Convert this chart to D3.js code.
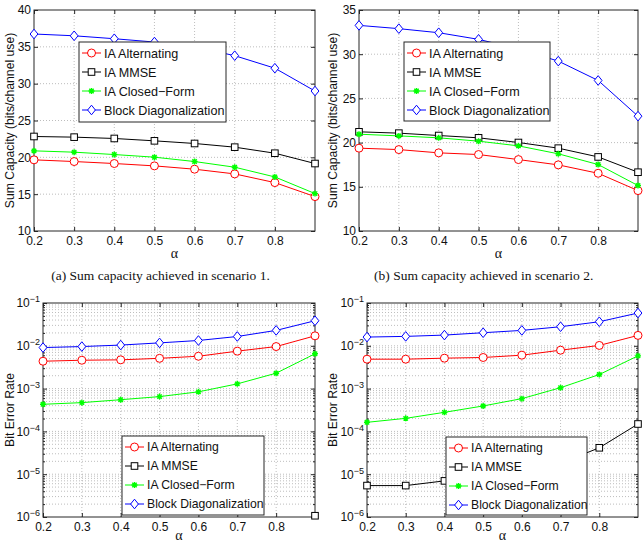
<!DOCTYPE html>
<html>
<head>
<meta charset="utf-8">
<script src="https://cdn.jsdelivr.net/npm/d3@7"></script>
<style>
body { margin: 0; background: #fff; }
svg { display: block; }
</style>
</head>
<body>
<div id="chart"></div>
<script>
const width = 643, height = 555;

// x values shared by every panel
const alphaValues = [0.2, 0.3, 0.4, 0.5, 0.6, 0.7, 0.8, 0.9];
const alphaTicks = [0.2, 0.3, 0.4, 0.5, 0.6, 0.7, 0.8];

const seriesNames = ["IA Alternating", "IA MMSE", "IA Closed\u2212Form", "Block Diagonalization"];
const seriesColors = ["#ff0000", "#000000", "#00ff00", "#0000ff"];
const seriesMarkers = ["circle", "square", "star", "diamond"];

// (a) sum capacity, scenario 1
const cap1Alternating = [19.66, 19.43, 19.16, 18.84, 18.39, 17.75, 16.57, 14.67];
const cap1MMSE = [22.83, 22.74, 22.56, 22.24, 21.88, 21.38, 20.56, 19.16];
const cap1ClosedForm = [20.88, 20.70, 20.38, 20.02, 19.43, 18.66, 17.34, 15.08];
const cap1BlockDiag = [36.74, 36.50, 36.10, 35.65, 35.00, 33.80, 32.10, 29.00];
const cap1Ticks = [10, 15, 20, 25, 30, 35, 40];

// (b) sum capacity, scenario 2
const cap2Alternating = [19.37, 19.21, 18.84, 18.65, 18.08, 17.48, 16.53, 14.57];
const cap2MMSE = [21.22, 21.07, 20.80, 20.54, 20.01, 19.37, 18.38, 16.65];
const cap2ClosedForm = [20.95, 20.76, 20.54, 20.16, 19.63, 18.73, 17.52, 15.14];
const cap2BlockDiag = [33.26, 32.89, 32.43, 31.68, 30.60, 29.22, 27.03, 22.99];
const cap2Ticks = [10, 15, 20, 25, 30, 35];

// bit error rate, scenario 1 (MMSE is zero except at the last point)
const ber1Alternating = [4.36e-3, 4.6e-3, 4.7e-3, 5.1e-3, 5.7e-3, 7.5e-3, 9.6e-3, 1.71e-2];
const ber1MMSE = [null, null, null, null, null, null, null, 1.07e-6];
const ber1ClosedForm = [4.3e-4, 4.7e-4, 5.5e-4, 6.5e-4, 8.4e-4, 1.29e-3, 2.29e-3, 6.5e-3];
const ber1BlockDiag = [9.1e-3, 9.6e-3, 1.04e-2, 1.17e-2, 1.33e-2, 1.65e-2, 2.29e-2, 3.85e-2];

// bit error rate, scenario 2
const ber2Alternating = [4.87e-3, 4.87e-3, 5.14e-3, 5.33e-3, 6.04e-3, 7.9e-3, 1.02e-2, 1.75e-2];
const ber2MMSE = [5.42e-6, 5.42e-6, 6.98e-6, 9.0e-6, 1.25e-5, 1.8e-5, 4.14e-5, 1.49e-4];
const ber2ClosedForm = [1.63e-4, 2.02e-4, 2.79e-4, 3.93e-4, 5.83e-4, 1.05e-3, 2.13e-3, 5.83e-3];
const ber2BlockDiag = [1.6e-2, 1.66e-2, 1.78e-2, 2.02e-2, 2.29e-2, 2.79e-2, 3.65e-2, 5.83e-2];
const berTicks = [1e-6, 1e-5, 1e-4, 1e-3, 1e-2, 1e-1];

const captions = ["(a) Sum capacity achieved in scenario 1.", "(b) Sum capacity achieved in scenario 2."];

const sansFont = "'Liberation Sans', Arial, sans-serif";
const serifFont = "'Liberation Serif', 'Times New Roman', serif";
const axisColor = "#262626";

const svg = d3.select("#chart")
  .append("svg")
  .attr("width", width)
  .attr("height", height);

svg.append("rect").attr("width", width).attr("height", height).attr("fill", "#fff");

const panels = [
  { x0: 34, x1: 315, y0: 10, y1: 231, log: false, domain: [10, 40], ticks: cap1Ticks,
    series: [cap1Alternating, cap1MMSE, cap1ClosedForm, cap1BlockDiag],
    ylabel: "Sum Capacity (bits/channel use)", ylabelX: 10, xlabelY: 258,
    legend: { x: 79, y: 42, w: 147, h: 80, font: 12.6 } },
  { x0: 359, x1: 638, y0: 10, y1: 231, log: false, domain: [10, 35], ticks: cap2Ticks,
    series: [cap2Alternating, cap2MMSE, cap2ClosedForm, cap2BlockDiag],
    ylabel: "Sum Capacity (bits/channel use)", ylabelX: 333, xlabelY: 258,
    legend: { x: 404, y: 42, w: 146, h: 79, font: 12.6 } },
  { x0: 43, x1: 315, y0: 303, y1: 517, log: true, domain: [1e-6, 1e-1], ticks: berTicks,
    series: [ber1Alternating, ber1MMSE, ber1ClosedForm, ber1BlockDiag],
    ylabel: "Bit Error Rate", ylabelX: 10, xlabelY: 540,
    legend: { x: 122, y: 436, w: 142, h: 79, font: 12.2 } },
  { x0: 367, x1: 638, y0: 303, y1: 517, log: true, domain: [1e-6, 1e-1], ticks: berTicks,
    series: [ber2Alternating, ber2MMSE, ber2ClosedForm, ber2BlockDiag],
    ylabel: "Bit Error Rate", ylabelX: 333, xlabelY: 540,
    legend: { x: 446, y: 437, w: 141, h: 78, font: 12.2 } }
];

function drawMarker(sel, type, color) {
  if (type === "circle") {
    sel.append("circle").attr("r", 4)
      .attr("fill", "#fff").attr("stroke", color).attr("stroke-width", 1);
  } else if (type === "square") {
    sel.append("rect").attr("x", -3.3).attr("y", -3.3).attr("width", 6.6).attr("height", 6.6)
      .attr("fill", "#fff").attr("stroke", color).attr("stroke-width", 1);
  } else if (type === "diamond") {
    sel.append("path").attr("d", "M0,-4.8L3.9,0L0,4.8L-3.9,0Z")
      .attr("fill", "#fff").attr("stroke", color).attr("stroke-width", 1);
  } else {
    sel.append("path").attr("d", "M-3,0H3M0,-3V3M-2.2,-2.2L2.2,2.2M-2.2,2.2L2.2,-2.2")
      .attr("fill", "none").attr("stroke", color).attr("stroke-width", 1.4);
  }
}

function minorLogValues(domain) {
  const out = [];
  for (let e = Math.round(Math.log10(domain[0])); e < Math.round(Math.log10(domain[1])); e++) {
    for (let m = 2; m <= 9; m++) out.push(m * Math.pow(10, e));
  }
  return out;
}

function drawPanel(p, idx) {
  const g = svg.append("g");
  const x = d3.scaleLinear().domain([0.2, 0.9]).range([p.x0, p.x1]);
  const y = (p.log ? d3.scaleLog() : d3.scaleLinear()).domain(p.domain).range([p.y1, p.y0]);
  const minors = p.log ? minorLogValues(p.domain) : [];

  // dotted grid
  const grid = g.append("g")
    .attr("stroke", "#a0a0a0")
    .attr("stroke-width", 0.7)
    .attr("stroke-dasharray", "1,2");
  const gridY = p.ticks.concat(minors).filter(v => v > p.domain[0] && v < p.domain[1]);
  grid.selectAll(".gy").data(gridY).join("line")
    .attr("x1", p.x0).attr("x2", p.x1)
    .attr("y1", d => y(d)).attr("y2", d => y(d));
  grid.selectAll(".gx").data(alphaTicks.filter(v => v > 0.2)).join("line")
    .attr("x1", d => x(d)).attr("x2", d => x(d))
    .attr("y1", p.y0).attr("y2", p.y1);

  // ticks on all four sides, pointing inwards
  const bottom = g.append("g")
    .attr("transform", `translate(0,${p.y1})`)
    .call(d3.axisBottom(x).tickValues(alphaTicks).tickSizeInner(-4).tickSizeOuter(0)
      .tickPadding(5).tickFormat(d3.format(".1f")));
  g.append("g")
    .attr("transform", `translate(0,${p.y0})`)
    .call(d3.axisTop(x).tickValues(alphaTicks).tickSizeInner(-4).tickSizeOuter(0).tickFormat(""));
  const left = g.append("g")
    .attr("transform", `translate(${p.x0},0)`)
    .call(d3.axisLeft(y).tickValues(p.ticks).tickSizeInner(-4).tickSizeOuter(0)
      .tickPadding(3).tickFormat(p.log ? () => "10" : d3.format("d")));
  g.append("g")
    .attr("transform", `translate(${p.x1},0)`)
    .call(d3.axisRight(y).tickValues(p.ticks).tickSizeInner(-4).tickSizeOuter(0).tickFormat(""));

  if (p.log) {
    g.append("g").attr("transform", `translate(${p.x0},0)`)
      .call(d3.axisLeft(y).tickValues(minors).tickSizeInner(-2).tickSizeOuter(0).tickFormat(""));
    g.append("g").attr("transform", `translate(${p.x1},0)`)
      .call(d3.axisRight(y).tickValues(minors).tickSizeInner(-2).tickSizeOuter(0).tickFormat(""));
    left.selectAll(".tick text").append("tspan")
      .attr("dy", "-0.55em")
      .attr("font-size", 9)
      .text(d => "\u2212" + Math.round(-Math.log10(d)));
  }

  g.selectAll(".domain").remove();
  g.selectAll(".tick line").attr("stroke", axisColor);
  [bottom, left].forEach(a => a.attr("font-size", 12).attr("font-family", sansFont)
    .selectAll(".tick text").attr("fill", "#111"));

  // axes box
  g.append("rect")
    .attr("x", p.x0).attr("y", p.y0)
    .attr("width", p.x1 - p.x0).attr("height", p.y1 - p.y0)
    .attr("fill", "none").attr("stroke", axisColor).attr("stroke-width", 1);

  // axis labels
  g.append("text")
    .attr("x", (p.x0 + p.x1) / 2).attr("y", p.xlabelY)
    .attr("text-anchor", "middle")
    .attr("font-family", serifFont).attr("font-size", 14).attr("fill", "#111")
    .text("\u03b1");
  g.append("text")
    .attr("transform", `translate(${p.ylabelX},${(p.y0 + p.y1) / 2}) rotate(-90)`)
    .attr("dy", "0.35em")
    .attr("text-anchor", "middle")
    .attr("font-family", sansFont).attr("font-size", 12.2).attr("fill", "#111")
    .text(p.ylabel);

  // series lines and markers
  const clipId = "clip" + idx;
  g.append("clipPath").attr("id", clipId).append("rect")
    .attr("x", p.x0).attr("y", p.y0).attr("width", p.x1 - p.x0).attr("height", p.y1 - p.y0);

  const line = d3.line()
    .defined(d => d.v != null && d.v > 0)
    .x(d => x(d.a))
    .y(d => y(d.v));

  p.series.forEach((vals, i) => {
    const pts = alphaValues.map((a, j) => ({ a: a, v: vals[j] }));
    g.append("path")
      .datum(pts)
      .attr("clip-path", `url(#${clipId})`)
      .attr("fill", "none")
      .attr("stroke", seriesColors[i])
      .attr("stroke-width", 1)
      .attr("d", line);
    g.selectAll(".m" + i)
      .data(pts.filter(d => d.v != null && d.v > 0))
      .join("g")
      .attr("transform", d => `translate(${x(d.a)},${y(d.v)})`)
      .each(function () { drawMarker(d3.select(this), seriesMarkers[i], seriesColors[i]); });
  });

  // legend
  const lg = g.append("g").attr("transform", `translate(${p.legend.x},${p.legend.y})`);
  lg.append("rect")
    .attr("width", p.legend.w).attr("height", p.legend.h)
    .attr("fill", "#fff").attr("stroke", axisColor).attr("stroke-width", 1);
  seriesNames.forEach((name, i) => {
    const row = lg.append("g").attr("transform", `translate(0,${11 + i * 19})`);
    row.append("line").attr("x1", 3).attr("x2", 22)
      .attr("stroke", seriesColors[i]).attr("stroke-width", 1);
    drawMarker(row.append("g").attr("transform", "translate(12.5,0)"), seriesMarkers[i], seriesColors[i]);
    row.append("text")
      .attr("x", 25).attr("dy", "0.36em")
      .attr("font-family", sansFont).attr("font-size", p.legend.font).attr("fill", "#111")
      .text(name);
  });
}

panels.forEach(drawPanel);

// sub-figure captions under the top row
svg.selectAll(".caption")
  .data(captions)
  .join("text")
  .attr("x", (d, i) => i === 0 ? 160.5 : 483.7)
  .attr("y", 280)
  .attr("text-anchor", "middle")
  .attr("font-family", serifFont)
  .attr("font-size", 13.5)
  .attr("fill", "#111")
  .text(d => d);
</script>
</body>
</html>
